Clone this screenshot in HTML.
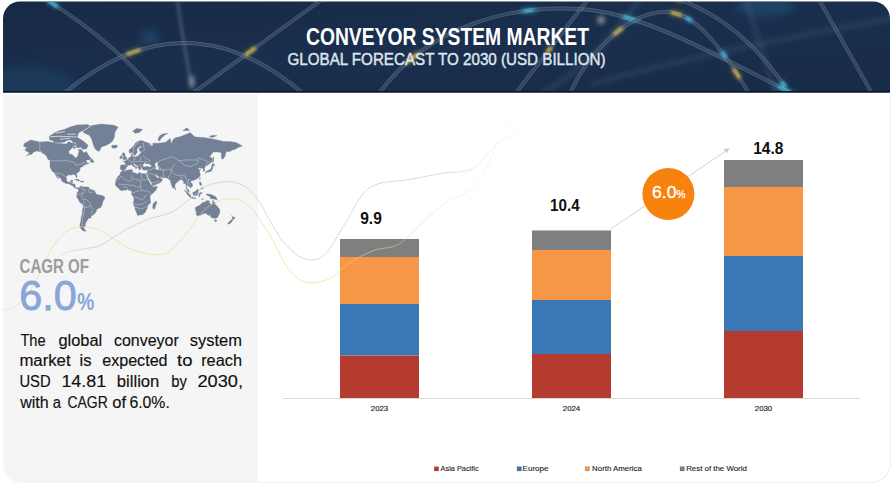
<!DOCTYPE html>
<html><head><meta charset="utf-8">
<style>
html,body{margin:0;padding:0;background:#fff;}
body{width:895px;height:492px;position:relative;overflow:hidden;font-family:"Liberation Sans",sans-serif;}
.abs{position:absolute;}
#left{left:3px;top:94px;width:255px;height:388.5px;background:#f5f5f5;border-radius:0 0 0 19px;}
#right{left:258px;top:93px;width:632px;height:389px;border:1px solid #efefef;border-top:none;border-left:none;border-radius:0 0 20px 0;}
.pl{position:absolute;left:20px;width:221.5px;font-size:15.6px;line-height:20px;height:20px;color:#111;-webkit-text-stroke:0.25px #111;text-align:justify;text-align-last:justify;white-space:nowrap;}
</style></head><body>
<div id="left" class="abs"></div>
<div id="right" class="abs"></div>
<svg class="abs" style="left:0;top:0" width="895" height="492" viewBox="0 0 895 492" font-family="Liberation Sans, sans-serif">
  <defs>
    <linearGradient id="hg" x1="0" y1="0" x2="1" y2="1">
      <stop offset="0" stop-color="#172a45"/>
      <stop offset="0.5" stop-color="#1a2f4e"/>
      <stop offset="1" stop-color="#172b46"/>
    </linearGradient>
    <radialGradient id="glowL" cx="0.1" cy="0.9" r="0.4">
      <stop offset="0" stop-color="#1f4a6e" stop-opacity="0.8"/>
      <stop offset="1" stop-color="#1f4a6e" stop-opacity="0"/>
    </radialGradient>
    <clipPath id="hc"><path d="M3 92.5 V18.5 A17 17 0 0 1 20 1.5 H873 A17 17 0 0 1 890 18.5 V92.5 Z"/></clipPath>
    <filter id="bl1" x="-50%" y="-50%" width="200%" height="200%"><feGaussianBlur stdDeviation="1"/></filter>
    <filter id="bl08" x="-50%" y="-50%" width="200%" height="200%"><feGaussianBlur stdDeviation="0.8"/></filter>
    <filter id="bl15" x="-50%" y="-50%" width="200%" height="200%"><feGaussianBlur stdDeviation="1.5"/></filter>
    <filter id="bl2" x="-50%" y="-50%" width="200%" height="200%"><feGaussianBlur stdDeviation="2"/></filter>
    <filter id="bl4" x="-50%" y="-50%" width="200%" height="200%"><feGaussianBlur stdDeviation="4"/></filter>
    <linearGradient id="gg" gradientUnits="userSpaceOnUse" x1="30" y1="0" x2="535" y2="0">
      <stop offset="0" stop-color="#c8c8c8" stop-opacity="0"/>
      <stop offset="0.12" stop-color="#c8c8c8" stop-opacity="0.7"/>
      <stop offset="0.8" stop-color="#c8c8c8" stop-opacity="0.7"/>
      <stop offset="1" stop-color="#c8c8c8" stop-opacity="0"/>
    </linearGradient>
    <linearGradient id="yg" gradientUnits="userSpaceOnUse" x1="0" y1="0" x2="525" y2="0">
      <stop offset="0" stop-color="#f3cf6e" stop-opacity="0.3"/>
      <stop offset="0.1" stop-color="#f3d27e" stop-opacity="0.6"/>
      <stop offset="0.72" stop-color="#f3d27e" stop-opacity="0.6"/>
      <stop offset="0.95" stop-color="#f3d27e" stop-opacity="0.15"/>
      <stop offset="1" stop-color="#f3cf6e" stop-opacity="0"/>
    </linearGradient>
  </defs>
  <g clip-path="url(#hc)">
    <rect x="0" y="0" width="895" height="93" fill="url(#hg)"/>
    
<ellipse cx="30" cy="88" rx="45" ry="22" fill="#24557a" opacity="0.3" filter="url(#bl4)"/><ellipse cx="150" cy="38" rx="10" ry="8" fill="#2a6a95" opacity="0.35" filter="url(#bl4)"/><ellipse cx="765" cy="6" rx="30" ry="10" fill="#2a6a95" opacity="0.35" filter="url(#bl4)"/><g filter="url(#bl2)" fill="none" stroke="#6d87a6" stroke-opacity="0.15" stroke-width="6"><path d="M590 85 Q690 55 895 18"/><path d="M745 -2 L776 95"/><path d="M540 95 Q600 60 640 -2"/></g><path d="M177 -2 Q183 40 191 84" fill="none" stroke="#8d9cb0" stroke-opacity="0.28" stroke-width="4" filter="url(#bl15)"/><path d="M44 -2 Q115 42.6 158 95" fill="none" stroke="#b9c7d8" stroke-width="3.8" stroke-opacity="0.300"/><path d="M44 -2 Q115 42.6 158 95" fill="none" stroke="#1c2f4b" stroke-width="2.10" stroke-opacity="0.5"/><path d="M44 -2 Q115 42.6 158 95" pathLength="1000" fill="none" stroke="#44c4e6" stroke-width="5.8" stroke-opacity="0.35" stroke-dasharray="0 27 86 5000" filter="url(#bl2)"/><path d="M44 -2 Q115 42.6 158 95" pathLength="1000" fill="none" stroke="#44c4e6" stroke-width="3.5" stroke-opacity="0.65" stroke-dasharray="0 35 70 5000" filter="url(#bl08)"/><path d="M62 95 Q185 -9 305 95" fill="none" stroke="#b9c7d8" stroke-width="3.8" stroke-opacity="0.300"/><path d="M62 95 Q185 -9 305 95" fill="none" stroke="#1c2f4b" stroke-width="2.10" stroke-opacity="0.5"/><path d="M62 95 Q185 -9 305 95" pathLength="1000" fill="none" stroke="#d9bb4a" stroke-width="5.8" stroke-opacity="0.35" stroke-dasharray="0 277 66 5000" filter="url(#bl2)"/><path d="M62 95 Q185 -9 305 95" pathLength="1000" fill="none" stroke="#d9bb4a" stroke-width="3.5" stroke-opacity="0.65" stroke-dasharray="0 285 50 5000" filter="url(#bl08)"/><path d="M193 93 L324 -2" fill="none" stroke="#b9c7d8" stroke-width="3.8" stroke-opacity="0.300"/><path d="M193 93 L324 -2" fill="none" stroke="#1c2f4b" stroke-width="2.10" stroke-opacity="0.5"/><path d="M193 93 L324 -2" pathLength="1000" fill="none" stroke="#d9bb4a" stroke-width="5.8" stroke-opacity="0.35" stroke-dasharray="0 392 91 5000" filter="url(#bl2)"/><path d="M193 93 L324 -2" pathLength="1000" fill="none" stroke="#d9bb4a" stroke-width="3.5" stroke-opacity="0.65" stroke-dasharray="0 400 75 5000" filter="url(#bl08)"/><path d="M380 92 C430 25 510 5 580 9 C630 12 680 35 795 95" fill="none" stroke="#b9c7d8" stroke-width="3.8" stroke-opacity="0.300"/><path d="M380 92 C430 25 510 5 580 9 C630 12 680 35 795 95" fill="none" stroke="#1c2f4b" stroke-width="2.10" stroke-opacity="0.5"/><path d="M380 92 C430 25 510 5 580 9 C630 12 680 35 795 95" pathLength="1000" fill="none" stroke="#d9bb4a" stroke-width="5.8" stroke-opacity="0.35" stroke-dasharray="0 82 41 5000" filter="url(#bl2)"/><path d="M380 92 C430 25 510 5 580 9 C630 12 680 35 795 95" pathLength="1000" fill="none" stroke="#d9bb4a" stroke-width="3.5" stroke-opacity="0.65" stroke-dasharray="0 90 25 5000" filter="url(#bl08)"/><path d="M380 92 C430 25 510 5 580 9 C630 12 680 35 795 95" pathLength="1000" fill="none" stroke="#44c4e6" stroke-width="5.8" stroke-opacity="0.35" stroke-dasharray="0 362 36 5000" filter="url(#bl2)"/><path d="M380 92 C430 25 510 5 580 9 C630 12 680 35 795 95" pathLength="1000" fill="none" stroke="#44c4e6" stroke-width="3.5" stroke-opacity="0.65" stroke-dasharray="0 370 20 5000" filter="url(#bl08)"/><path d="M380 92 C430 25 510 5 580 9 C630 12 680 35 795 95" pathLength="1000" fill="none" stroke="#44c4e6" stroke-width="5.8" stroke-opacity="0.35" stroke-dasharray="0 582 41 5000" filter="url(#bl2)"/><path d="M380 92 C430 25 510 5 580 9 C630 12 680 35 795 95" pathLength="1000" fill="none" stroke="#44c4e6" stroke-width="3.5" stroke-opacity="0.65" stroke-dasharray="0 590 25 5000" filter="url(#bl08)"/><path d="M380 92 C430 25 510 5 580 9 C630 12 680 35 795 95" pathLength="1000" fill="none" stroke="#44c4e6" stroke-width="5.8" stroke-opacity="0.35" stroke-dasharray="0 952 46 5000" filter="url(#bl2)"/><path d="M380 92 C430 25 510 5 580 9 C630 12 680 35 795 95" pathLength="1000" fill="none" stroke="#44c4e6" stroke-width="3.5" stroke-opacity="0.65" stroke-dasharray="0 960 30 5000" filter="url(#bl08)"/><path d="M516 93 L589 -2" fill="none" stroke="#b9c7d8" stroke-width="3.8" stroke-opacity="0.300"/><path d="M516 93 L589 -2" fill="none" stroke="#1c2f4b" stroke-width="2.10" stroke-opacity="0.5"/><path d="M516 93 L589 -2" pathLength="1000" fill="none" stroke="#d9bb4a" stroke-width="5.8" stroke-opacity="0.35" stroke-dasharray="0 422 66 5000" filter="url(#bl2)"/><path d="M516 93 L589 -2" pathLength="1000" fill="none" stroke="#d9bb4a" stroke-width="3.5" stroke-opacity="0.65" stroke-dasharray="0 430 50 5000" filter="url(#bl08)"/><path d="M570 93 C590 50 630 12 665 12 C695 12 720 45 750 95" fill="none" stroke="#b9c7d8" stroke-width="3.8" stroke-opacity="0.300"/><path d="M570 93 C590 50 630 12 665 12 C695 12 720 45 750 95" fill="none" stroke="#1c2f4b" stroke-width="2.10" stroke-opacity="0.5"/><path d="M570 93 C590 50 630 12 665 12 C695 12 720 45 750 95" pathLength="1000" fill="none" stroke="#d9bb4a" stroke-width="5.8" stroke-opacity="0.35" stroke-dasharray="0 282 56 5000" filter="url(#bl2)"/><path d="M570 93 C590 50 630 12 665 12 C695 12 720 45 750 95" pathLength="1000" fill="none" stroke="#d9bb4a" stroke-width="3.5" stroke-opacity="0.65" stroke-dasharray="0 290 40 5000" filter="url(#bl08)"/><path d="M570 93 C590 50 630 12 665 12 C695 12 720 45 750 95" pathLength="1000" fill="none" stroke="#d9bb4a" stroke-width="5.8" stroke-opacity="0.35" stroke-dasharray="0 532 56 5000" filter="url(#bl2)"/><path d="M570 93 C590 50 630 12 665 12 C695 12 720 45 750 95" pathLength="1000" fill="none" stroke="#d9bb4a" stroke-width="3.5" stroke-opacity="0.65" stroke-dasharray="0 540 40 5000" filter="url(#bl08)"/><path d="M570 93 C590 50 630 12 665 12 C695 12 720 45 750 95" pathLength="1000" fill="none" stroke="#44c4e6" stroke-width="5.8" stroke-opacity="0.35" stroke-dasharray="0 592 41 5000" filter="url(#bl2)"/><path d="M570 93 C590 50 630 12 665 12 C695 12 720 45 750 95" pathLength="1000" fill="none" stroke="#44c4e6" stroke-width="3.5" stroke-opacity="0.65" stroke-dasharray="0 600 25 5000" filter="url(#bl08)"/><path d="M570 93 C590 50 630 12 665 12 C695 12 720 45 750 95" pathLength="1000" fill="none" stroke="#44c4e6" stroke-width="5.8" stroke-opacity="0.35" stroke-dasharray="0 792 41 5000" filter="url(#bl2)"/><path d="M570 93 C590 50 630 12 665 12 C695 12 720 45 750 95" pathLength="1000" fill="none" stroke="#44c4e6" stroke-width="3.5" stroke-opacity="0.65" stroke-dasharray="0 800 25 5000" filter="url(#bl08)"/><path d="M570 93 C590 50 630 12 665 12 C695 12 720 45 750 95" pathLength="1000" fill="none" stroke="#d9bb4a" stroke-width="5.8" stroke-opacity="0.35" stroke-dasharray="0 872 56 5000" filter="url(#bl2)"/><path d="M570 93 C590 50 630 12 665 12 C695 12 720 45 750 95" pathLength="1000" fill="none" stroke="#d9bb4a" stroke-width="3.5" stroke-opacity="0.65" stroke-dasharray="0 880 40 5000" filter="url(#bl08)"/><path d="M675 -2 Q740 20 786 88" fill="none" stroke="#b9c7d8" stroke-width="3.8" stroke-opacity="0.300"/><path d="M675 -2 Q740 20 786 88" fill="none" stroke="#1c2f4b" stroke-width="2.10" stroke-opacity="0.5"/><path d="M675 -2 Q740 20 786 88" pathLength="1000" fill="none" stroke="#d9bb4a" stroke-width="5.8" stroke-opacity="0.35" stroke-dasharray="0 0.01 56 5000" filter="url(#bl2)"/><path d="M675 -2 Q740 20 786 88" pathLength="1000" fill="none" stroke="#d9bb4a" stroke-width="3.5" stroke-opacity="0.65" stroke-dasharray="0 0.01 40 5000" filter="url(#bl08)"/><path d="M675 -2 Q740 20 786 88" pathLength="1000" fill="none" stroke="#44c4e6" stroke-width="5.8" stroke-opacity="0.35" stroke-dasharray="0 942 56 5000" filter="url(#bl2)"/><path d="M675 -2 Q740 20 786 88" pathLength="1000" fill="none" stroke="#44c4e6" stroke-width="3.5" stroke-opacity="0.65" stroke-dasharray="0 950 40 5000" filter="url(#bl08)"/><path d="M818 -2 L873 95" fill="none" stroke="#b9c7d8" stroke-width="3.8" stroke-opacity="0.300"/><path d="M818 -2 L873 95" fill="none" stroke="#1c2f4b" stroke-width="2.10" stroke-opacity="0.5"/><ellipse cx="192" cy="82" rx="3" ry="7" fill="#c8c4bc" opacity="0.5" filter="url(#bl2)"/><ellipse cx="601" cy="20" rx="4" ry="4" fill="#e0d8d0" opacity="0.5" filter="url(#bl2)"/>
    <rect x="0" y="91" width="895" height="2" fill="#0a1526"/>
  </g>
  <text x="306" y="45.3" font-size="24.1" font-weight="bold" fill="#fff" textLength="283" lengthAdjust="spacingAndGlyphs">CONVEYOR SYSTEM MARKET</text>
  <text x="287.5" y="65.4" font-size="16.2" fill="#dfe4ec" stroke="#dfe4ec" stroke-width="0.45" textLength="318" lengthAdjust="spacingAndGlyphs">GLOBAL FORECAST TO 2030 (USD BILLION)</text>

  <!-- map -->
  <path d="M23.4 146.1L24.6 143.2L30.7 140.1L39.8 142.0L47.8 141.5L55.7 143.2L61.8 143.7L66.7 143.9L68.6 141.5L72.2 143.2L75.9 142.1L76.5 145.2L73.5 145.7L72.2 147.7L68.6 151.5L69.5 154.2L72.2 154.6L75.6 158.0L77.7 156.3L79.0 151.5L78.3 149.2L81.4 149.6L83.8 152.9L86.3 151.5L88.4 155.0L91.2 158.4L89.6 160.0L85.7 160.0L86.6 161.2L86.9 163.1L89.3 163.1L85.7 164.6L83.2 165.4L83.2 166.5L80.8 167.2L79.6 169.7L79.9 171.0L76.5 173.5L77.1 176.5L76.8 177.7L75.9 176.8L75.3 174.8L74.1 174.5L71.6 174.4L71.3 175.2L68.6 174.8L66.4 176.2L66.4 178.5L66.7 180.4L67.3 181.7L68.6 182.2L70.4 182.0L70.7 180.4L72.8 180.1L72.5 182.3L71.9 183.7L74.7 183.9L75.1 186.0L75.9 187.9L77.7 187.6L78.8 188.2L78.3 189.0L77.1 188.8L73.8 187.3L72.5 185.4L70.1 184.8L68.6 183.5L67.0 183.7L64.9 182.9L61.5 181.0L61.8 180.1L61.2 179.1L59.4 177.5L57.6 175.2L56.0 173.5L57.0 175.2L58.8 178.5L58.8 179.1L57.6 178.0L56.0 175.8L54.8 173.5L54.4 172.7L52.4 171.5L51.2 169.4L50.2 167.2L49.9 165.4L50.2 162.8L49.8 161.3L50.8 160.8L47.8 159.2L46.6 156.3L44.7 154.2L42.3 152.9L40.5 151.8L36.8 151.0L33.7 152.0L31.9 154.2L29.5 154.6L26.4 156.1L29.5 152.9L27.0 151.5L25.2 150.6L25.2 149.2L27.6 147.2L25.2 147.2ZM49.6 139.9L49.3 136.4L52.7 133.9L57.6 131.3L64.9 129.3L69.8 127.1L77.1 124.9L88.1 124.6L89.3 126.1L83.2 129.9L79.6 132.6L78.3 133.9L77.1 137.0L79.6 138.7L83.2 141.0L88.1 145.2L86.6 148.7L82.6 149.2L80.8 147.2L77.1 147.7L74.7 144.2L72.2 141.5L71.0 139.9L68.0 139.9L64.3 142.1L60.0 142.8L53.9 142.6L52.7 140.4ZM72.8 146.2L76.5 147.7L73.5 148.7ZM90.0 162.0L93.6 162.6L93.8 161.6L92.1 158.7L90.9 159.4ZM80.8 129.9L88.1 125.9L101.6 124.1L113.8 125.2L118.1 127.1L115.0 132.0L114.4 137.0L112.6 141.0L110.1 143.2L105.2 145.7L101.6 146.7L99.1 151.5L96.1 150.1L94.2 147.2L93.0 143.7L91.8 139.3L89.3 135.2L84.5 133.3ZM111.3 146.2L112.6 145.3L116.8 145.2L117.8 146.7L115.0 148.2L112.3 147.9ZM74.1 179.9L77.1 179.0L80.8 180.9L78.6 181.1L75.3 179.7ZM80.5 182.0L84.1 182.0L83.2 181.1L81.4 181.1ZM78.6 188.2L79.6 187.6L79.9 186.8L82.0 185.8L82.3 186.7L84.5 187.0L86.9 187.0L88.7 187.0L89.3 188.2L91.2 189.7L94.2 190.3L95.5 192.5L95.5 193.7L99.1 194.9L102.2 195.5L104.6 196.8L104.6 198.9L103.1 201.1L102.2 204.2L101.6 206.1L100.3 207.7L96.7 209.3L96.4 211.3L94.8 213.3L93.6 215.0L91.5 215.6L90.9 216.7L90.9 218.1L88.1 218.5L87.8 219.9L86.6 221.0L86.0 222.9L84.8 224.0L85.7 225.2L83.8 227.6L84.1 228.8L86.3 230.9L84.5 231.3L82.0 230.1L80.2 227.6L79.9 224.4L80.8 221.4L81.1 217.8L82.3 213.6L82.3 211.0L82.9 207.7L83.1 204.8L79.9 202.6L79.0 200.8L77.4 198.0L76.4 196.5L77.1 194.9L76.8 193.1L77.4 192.5L78.3 191.6L78.6 189.7L78.0 188.5ZM115.3 184.4L115.9 181.3L115.6 180.4L116.8 178.5L118.1 176.2L120.0 174.8L120.2 172.8L122.3 170.6L124.8 171.0L127.8 169.9L132.1 169.5L132.7 170.8L132.1 171.8L133.0 172.5L135.2 173.0L137.9 174.2L138.5 172.8L140.1 172.8L141.3 173.4L144.0 173.8L145.9 173.7L145.9 174.5L146.5 176.5L147.7 178.5L148.6 180.4L149.5 182.3L150.4 183.9L152.5 185.7L152.3 186.3L153.2 187.0L157.2 186.2L157.2 187.0L156.2 189.7L154.7 191.6L152.3 193.7L150.4 195.2L150.0 197.1L150.1 199.5L150.7 202.9L148.6 204.2L147.4 206.7L147.7 208.3L146.2 209.6L145.9 211.6L144.3 213.3L142.5 214.7L139.4 215.0L138.2 215.6L137.2 215.0L137.0 213.6L136.1 211.3L135.2 210.0L134.9 207.4L133.2 203.9L133.6 201.4L134.2 200.1L133.3 197.1L131.5 194.0L131.8 191.6L131.2 190.6L129.7 190.8L127.8 189.5L125.1 190.3L123.6 190.2L121.4 190.7L119.0 189.1L117.8 187.6L116.8 186.7L115.7 185.7ZM156.1 200.8L156.9 202.9L156.2 203.9L154.7 208.8L153.5 209.3L152.6 207.1L153.2 203.6L154.7 202.6ZM120.6 169.7L120.2 168.3L120.6 166.1L120.4 165.2L121.1 164.9L124.8 165.1L125.1 164.3L125.3 163.1L124.5 162.1L123.1 161.3L125.1 161.0L126.9 160.0L128.1 159.0L128.7 158.0L130.0 157.2L131.2 156.9L131.2 155.5L131.0 154.2L132.4 153.7L132.4 155.5L133.3 156.5L134.9 156.8L137.3 156.2L138.8 155.9L138.8 154.4L140.7 154.0L141.0 152.0L143.4 151.7L140.1 151.5L139.1 150.1L139.1 148.7L141.6 146.7L140.7 145.9L139.1 146.9L137.6 148.2L136.7 150.1L137.6 151.7L137.0 152.6L136.1 154.2L134.6 155.5L133.8 155.0L132.7 152.6L131.8 152.4L129.7 153.3L129.1 152.0L129.2 149.6L131.5 148.2L134.2 145.2L135.2 143.2L137.6 141.5L141.3 140.4L144.3 141.5L146.2 142.3L151.1 144.2L148.0 145.2L152.9 145.7L152.9 143.2L158.4 143.2L162.0 142.8L166.3 142.1L167.5 140.4L170.3 138.5L171.2 143.7L173.7 138.7L176.1 137.6L179.2 137.0L187.1 133.9L190.2 132.6L195.0 137.0L203.6 137.6L211.5 138.7L217.6 139.9L223.8 141.5L229.9 141.5L236.0 142.6L240.3 144.7L242.4 146.2L238.4 147.2L235.4 149.2L232.3 150.1L229.9 151.5L225.9 151.7L225.6 153.7L225.0 156.3L222.8 159.2L221.6 158.8L221.3 155.0L221.6 153.6L220.1 152.2L217.0 152.0L213.4 152.1L211.8 153.7L209.7 156.7L212.2 158.4L212.2 161.2L210.3 163.1L207.3 165.5L205.4 165.8L205.1 167.2L204.2 168.7L205.1 170.4L204.2 171.1L203.3 171.5L203.3 169.4L202.4 167.9L200.2 168.3L200.5 167.2L198.1 168.3L198.7 169.6L200.8 169.5L199.3 170.8L199.9 173.2L200.5 174.5L199.6 176.5L198.1 178.1L195.7 179.5L193.2 180.4L191.1 181.0L190.5 182.0L192.3 183.9L192.6 186.3L191.4 187.0L190.2 188.1L190.0 187.0L188.9 186.5L187.7 185.6L187.1 185.1L186.6 187.0L187.3 189.1L188.9 190.0L189.2 192.5L187.9 191.7L187.3 190.3L186.2 188.5L186.1 186.7L185.7 183.5L183.6 183.5L183.7 181.7L182.4 180.1L182.0 179.4L181.0 179.9L179.2 180.1L178.9 181.0L177.6 181.7L176.1 183.2L175.0 184.2L175.1 185.4L174.8 187.1L173.4 188.5L172.7 187.9L171.7 185.5L170.9 183.2L170.5 181.7L170.4 180.1L168.8 179.4L167.9 178.8L166.6 177.7L163.9 177.7L161.1 177.3L160.4 176.5L159.0 176.7L157.5 175.9L156.6 174.5L155.3 174.5L155.6 175.5L157.0 177.8L157.5 178.3L160.2 177.1L160.5 178.1L162.5 179.4L161.3 181.7L159.6 182.9L157.8 183.5L155.6 184.8L153.5 185.5L152.5 185.7L152.1 183.9L151.4 182.3L149.8 180.1L148.6 177.8L147.4 175.8L147.3 174.8L145.9 174.6L145.7 173.7L147.1 173.5L147.9 170.8L148.1 169.9L146.8 170.3L144.6 170.1L143.1 169.9L142.2 168.7L142.0 167.6L141.9 167.1L140.6 167.4L140.7 169.0L140.1 170.1L139.3 169.9L138.8 168.7L138.2 167.9L137.9 166.9L137.9 166.1L137.0 165.6L135.5 164.6L134.4 163.7L133.5 163.5L133.6 164.6L134.4 165.5L135.8 166.5L137.3 167.5L136.4 168.3L135.8 169.0L135.6 167.6L134.6 167.0L133.6 166.5L132.4 165.5L131.4 164.3L130.0 165.2L128.4 165.0L127.8 165.9L128.0 166.3L126.5 166.9L125.8 168.1L126.1 168.5L125.6 169.3L124.8 169.9L122.6 170.4L122.0 169.8ZM122.5 160.0L126.9 159.2L127.0 157.8L126.0 157.2L125.1 155.9L124.8 153.6L123.9 152.8L122.9 152.8L122.2 154.6L122.9 155.9L124.2 156.7L123.3 157.6L122.8 158.6L124.2 158.9ZM122.3 158.2L122.3 156.7L121.4 155.6L119.9 156.7L119.8 158.6L121.1 158.8ZM157.8 139.9L159.6 135.8L162.7 133.9L168.2 133.3L164.5 135.2L160.8 138.7L159.6 141.0ZM132.7 131.3L136.4 128.6L142.5 129.3L139.4 132.6L135.2 133.3ZM182.8 130.6L187.1 127.8L189.5 130.6ZM209.1 136.4L212.8 135.2L217.0 135.8L212.2 137.6ZM174.9 187.4L176.1 188.8L175.2 189.8L174.8 189.1ZM205.4 173.8L206.7 172.1L208.8 172.1L211.5 171.1L212.2 169.7L212.8 167.6L212.3 166.5L213.7 166.1L214.9 165.0L212.8 163.5L211.8 165.0L211.4 167.2L210.6 169.2L209.1 170.1L207.3 170.8L205.9 171.8ZM212.8 163.1L213.7 160.8L213.4 156.7L212.8 157.2L212.8 160.4ZM199.9 177.6L200.5 178.1L199.8 179.7L199.4 179.1ZM199.3 182.0L200.8 182.1L201.8 185.4L199.9 185.1ZM200.5 189.1L203.3 188.8L202.7 187.6L201.2 188.2ZM184.2 190.0L185.9 191.0L189.5 194.3L190.8 195.2L190.8 196.9L189.8 196.9L187.7 194.9L186.2 192.5ZM190.3 197.6L192.0 197.3L196.0 198.1L196.0 198.7L192.0 198.2L190.5 197.7ZM192.6 192.5L193.0 193.7L193.2 195.2L195.7 195.5L197.2 195.2L198.1 192.8L198.7 190.3L197.5 189.1L196.6 190.3L195.0 191.6L193.2 192.5ZM198.7 196.8L199.6 196.8L199.9 194.6L201.2 194.0L202.4 192.6L199.6 192.8L198.7 195.2ZM206.0 194.2L207.9 193.9L210.0 194.3L212.2 195.0L214.6 196.2L216.1 197.1L216.4 198.3L217.6 199.8L215.8 199.5L213.7 198.9L212.2 199.0L210.3 198.5L210.0 196.5L207.9 195.8L206.7 195.1ZM201.8 198.9L203.6 198.5L202.4 199.5L201.5 199.7ZM195.7 207.1L195.3 209.6L196.3 212.3L196.3 215.0L198.1 215.7L201.2 215.0L203.0 213.8L206.0 213.3L208.5 215.7L210.0 214.3L210.3 216.0L211.5 217.8L214.0 218.1L215.2 218.5L217.6 217.4L219.5 213.6L219.8 211.0L219.5 209.0L218.0 207.4L217.0 206.1L215.2 204.5L214.9 202.6L213.7 202.0L213.1 200.0L212.5 201.4L212.5 203.9L211.5 204.3L209.1 202.8L209.6 201.0L207.0 200.5L205.4 201.4L205.1 202.6L203.0 202.0L201.8 203.6L200.5 204.5L198.7 205.8ZM214.5 219.7L216.6 219.9L216.4 221.4L215.5 221.9L214.7 220.8ZM231.6 215.3L232.6 216.7L235.1 217.6L234.1 218.9L232.9 220.3L232.2 218.6L232.6 217.1ZM231.4 219.6L232.5 220.5L231.7 222.0L230.5 222.9L229.3 224.2L227.7 223.7L228.6 222.2L230.5 220.7Z" fill="#738095" stroke="#738095" stroke-width="0.35" stroke-linejoin="round"/>
  <path d="M143.1 166.5L143.7 166.8L144.9 166.8L147.4 166.1L149.2 166.9L151.4 166.5L151.4 165.8L149.8 164.4L148.9 163.9L147.7 163.7L146.5 164.3L145.9 163.7L144.9 162.7L144.3 163.5L143.6 164.3L143.0 165.4ZM154.7 164.3L156.2 162.8L157.5 162.4L158.4 163.1L157.2 164.3L158.1 166.1L158.4 167.6L159.0 169.4L156.9 169.7L155.9 168.7L156.2 167.2L155.3 165.4Z" fill="#f5f5f5"/>
  <path d="M91.8 124.9L86.9 128.6L82.0 131.7L78.3 133.9M50.2 136.7L58.8 136.3L68.0 136.6L76.5 137.0M67.3 134.2L75.9 134.3M55.7 133.0L64.9 131.6M60.0 139.3L64.9 138.7L69.8 138.2M74.1 142.1L76.5 144.7" fill="none" stroke="#f5f5f5" stroke-width="0.7"/>
  <path d="M50.8 160.8L68.0 160.8L71.6 161.6L75.3 163.1L75.6 165.4L77.7 165.2L80.2 163.9L82.6 163.9L83.8 162.0L84.8 163.5M54.5 172.8L58.2 173.6L60.0 173.6L60.9 173.3L63.1 175.2L65.2 176.5L66.6 177.2M39.8 142.0L39.8 151.2L42.3 152.4M69.8 182.3L71.6 182.4L71.9 183.7M120.7 176.0L123.1 177.8L126.6 180.4L128.4 181.7L133.3 178.8L135.2 179.1L140.7 181.0M141.3 173.4L141.3 179.7L148.5 179.7M131.8 174.5L132.1 178.5M140.7 181.0L140.7 188.5L142.5 190.3L144.9 191.3L147.4 190.6L151.7 194.3M115.6 180.4L118.7 179.1L120.8 176.0M118.7 184.2L126.0 184.5L128.4 185.1L134.6 185.4L135.8 187.3L139.4 186.7L140.7 187.3M122.9 187.3L126.0 186.7L127.2 187.9L127.8 189.5M131.5 192.8L134.6 192.2L137.0 191.3L142.5 190.3M133.3 196.5L135.8 197.4L139.4 198.3L140.7 200.1L144.3 198.3L144.9 196.2L147.4 194.6M133.2 203.9L138.2 204.5L141.3 204.5L144.9 202.6L147.4 200.8M134.9 207.4L138.2 207.1L138.2 209.0L143.1 208.3L145.6 207.1L147.4 207.1M146.2 173.8L148.3 174.8L149.8 173.2L154.7 175.2M148.0 169.9L151.7 169.6L153.2 167.9M151.7 182.9L153.5 182.6L157.8 181.7L159.6 181.0M153.2 167.9L155.3 168.7L159.0 169.4L163.3 170.1L166.9 169.7L171.2 169.7M163.3 170.1L163.3 173.8L163.9 177.5M171.2 169.7L171.2 173.2L169.1 175.8L167.9 178.8M171.2 169.7L173.7 172.5L174.9 174.5L179.8 175.8L185.3 175.8L185.9 178.5L187.7 180.1L190.8 179.4M182.2 177.2L180.4 179.7M155.3 163.1L163.3 159.6L172.4 156.7L179.2 160.8L185.3 160.0L197.5 160.0L199.3 157.6L203.6 160.0L208.5 161.6L206.0 165.4M154.7 166.1L156.6 169.4M159.0 166.1L160.8 169.0L163.3 170.1M179.2 160.8L184.7 165.4L190.8 166.5L194.4 165.0L198.7 162.0L197.5 160.0M174.9 163.9L172.4 167.6L171.2 169.7M187.7 180.1L190.2 185.1L188.9 186.7M185.9 187.3L187.1 184.8L187.7 182.3L185.9 181.0M127.2 159.2L129.7 160.4L130.6 162.0L132.1 162.0L133.9 162.0L136.4 161.6L139.7 161.6L143.1 161.6L149.2 162.4M124.9 165.2L128.0 165.8M134.7 156.7L135.0 159.2L133.3 159.8L133.9 161.2M140.4 156.7L140.7 159.6L139.7 161.2M143.4 151.5L144.3 149.6L143.7 145.7L143.4 142.6M133.9 152.4L133.3 150.1L134.6 146.7L137.0 143.2L138.8 142.6M143.1 155.0L145.6 158.4L149.2 160.0L150.4 162.0M138.2 166.1L140.1 165.0L143.1 164.6M83.5 192.4L81.1 196.2L83.2 199.5L86.3 199.5L89.3 202.0L90.6 205.8L93.0 209.3L93.0 210.3L90.8 212.3L93.4 214.8M83.2 207.1L84.5 207.7L84.1 211.6L83.2 215.7L82.3 220.7L82.0 226.8M83.8 200.8L83.5 204.2L84.5 207.4L88.1 207.1L90.6 205.8M82.0 186.0L81.7 189.1L85.1 189.5L84.9 192.5M89.3 188.2L88.7 190.3L89.3 192.5L91.8 192.2L94.2 191.9M77.1 194.6L80.2 194.0L83.5 192.4" fill="none" stroke="#f5f5f5" stroke-opacity="0.7" stroke-width="0.5"/>


  <!-- chart -->
  <line x1="283" y1="398.5" x2="860" y2="398.5" stroke="#d9d9d9" stroke-width="1"/>
  <rect x="340" y="239" width="79" height="18.0" fill="#7f7f7f"/><rect x="340" y="257" width="79" height="47.0" fill="#f79646"/><rect x="340" y="304" width="79" height="51.6" fill="#3a77b5"/><rect x="340" y="355.6" width="79" height="42.4" fill="#b53a2f"/><rect x="532" y="230.5" width="79" height="19.5" fill="#7f7f7f"/><rect x="532" y="250" width="79" height="50.0" fill="#f79646"/><rect x="532" y="300" width="79" height="54.0" fill="#3a77b5"/><rect x="532" y="354" width="79" height="44.0" fill="#b53a2f"/><rect x="724" y="160" width="79" height="27.0" fill="#7f7f7f"/><rect x="724" y="187" width="79" height="69.0" fill="#f79646"/><rect x="724" y="256" width="79" height="75.0" fill="#3a77b5"/><rect x="724" y="331" width="79" height="67.0" fill="#b53a2f"/>
  <g font-size="16.3" font-weight="bold" fill="#111">
    <text x="360.2" y="223.5" textLength="21.6" lengthAdjust="spacingAndGlyphs">9.9</text>
    <text x="550" y="210.5" textLength="29.6" lengthAdjust="spacingAndGlyphs">10.4</text>
    <text x="753.2" y="153.7" textLength="30.2" lengthAdjust="spacingAndGlyphs">14.8</text>
  </g>
  <g font-size="7.8" fill="#1a1a1a" stroke="#1a1a1a" stroke-width="0.15" text-anchor="middle">
    <text x="379.5" y="411">2023</text>
    <text x="571.5" y="411">2024</text>
    <text x="763.5" y="411">2030</text>
  </g>
  <!-- curves -->
  <path d="M34 277 C38.5 273.3 53.3 259.6 61.0 255.0 C68.7 250.4 73.5 251.1 80.0 249.5 C86.5 247.9 93.5 248.2 100.0 245.5 C106.5 242.8 111.5 237.8 119.0 233.6 C126.5 229.4 136.2 224.0 145.0 220.4 C153.8 216.8 164.2 215.9 172.0 212.0 C179.8 208.1 186.7 201.2 192.0 197.0 C197.3 192.8 198.7 189.6 204.0 187.0 C209.3 184.4 217.8 182.1 224.0 181.7 C230.2 181.3 235.7 182.0 241.0 184.6 C246.3 187.2 250.7 190.1 256.0 197.0 C261.3 203.9 268.2 218.2 273.0 226.0 C277.8 233.8 279.7 238.5 285.0 244.0 C290.3 249.5 298.3 257.2 305.0 259.0 C311.7 260.8 318.2 260.7 325.0 254.5 C331.8 248.3 338.5 233.2 346.0 222.0 C353.5 210.8 359.2 194.5 370.0 187.4 C380.8 180.3 398.8 181.7 411.0 179.3 C423.2 176.9 432.8 174.9 443.0 173.2 C453.2 171.5 463.8 173.1 472.0 169.0 C480.2 164.9 486.0 154.2 492.0 148.8 C498.0 143.4 501.5 139.8 508.0 136.6 C514.5 133.3 527.2 130.5 531.0 129.3" fill="none" stroke="url(#gg)" stroke-width="1"/>
  <path d="M2.6 310 C4.8 309.3 11.1 309.7 16.0 306.0 C20.9 302.3 26.7 296.3 32.0 288.0 C37.3 279.7 42.8 264.7 47.6 256.0 C52.4 247.3 56.1 240.8 61.0 236.0 C65.9 231.2 70.8 228.1 77.0 227.0 C83.2 225.9 91.8 227.6 98.0 229.6 C104.2 231.6 108.3 235.7 114.0 239.0 C119.7 242.3 125.0 246.9 132.0 249.5 C139.0 252.1 149.3 254.7 156.0 254.7 C162.7 254.7 166.0 254.3 172.0 249.5 C178.0 244.7 186.7 232.6 192.0 226.0 C197.3 219.4 199.8 214.1 204.0 210.0 C208.2 205.9 212.8 203.6 217.0 201.7 C221.2 199.8 224.7 198.8 229.0 198.8 C233.3 198.8 238.5 199.2 243.0 201.7 C247.5 204.2 251.0 207.5 256.0 214.0 C261.0 220.5 267.8 231.9 273.0 240.7 C278.2 249.5 281.7 260.1 287.0 267.0 C292.3 273.9 298.0 280.0 305.0 282.0 C312.0 284.0 321.5 282.2 329.0 279.0 C336.5 275.8 342.5 267.4 350.0 262.6 C357.5 257.8 365.9 253.5 374.0 250.4 C382.1 247.3 390.3 249.0 398.5 244.3 C406.7 239.6 414.9 229.1 423.0 222.0 C431.1 214.9 439.5 206.7 447.0 201.6 C454.5 196.5 461.8 196.2 468.0 191.5 C474.2 186.8 478.7 182.3 484.0 173.2 C489.3 164.0 494.0 147.8 500.0 136.6 C506.0 125.4 516.7 111.1 520.0 106.0" fill="none" stroke="url(#yg)" stroke-width="1"/>
  <!-- CAGR -->
  <text x="19.5" y="272.8" font-size="20" font-weight="bold" fill="#9c9c9c" textLength="69.5" lengthAdjust="spacingAndGlyphs">CAGR OF</text>
  <text x="19.2" y="310" font-size="43.2" fill="#88a6da" stroke="#88a6da" stroke-width="0.8" textLength="57.6" lengthAdjust="spacingAndGlyphs">6.0</text>
  <text x="77.3" y="310.3" font-size="24.8" font-weight="bold" fill="#88a6da" textLength="17" lengthAdjust="spacingAndGlyphs">%</text>

  <g font-size="15.6" fill="#111" stroke="#111" stroke-width="0.15"><text x="20.4" y="346" textLength="25.2" lengthAdjust="spacingAndGlyphs">The</text><text x="58.4" y="346" textLength="43.8" lengthAdjust="spacingAndGlyphs">global</text><text x="114.0" y="346" textLength="64.8" lengthAdjust="spacingAndGlyphs">conveyor</text><text x="189.8" y="346" textLength="52.2" lengthAdjust="spacingAndGlyphs">system</text><text x="19.4" y="366.4" textLength="51.2" lengthAdjust="spacingAndGlyphs">market</text><text x="79.6" y="366.4" textLength="12.0" lengthAdjust="spacingAndGlyphs">is</text><text x="102.2" y="366.4" textLength="65.4" lengthAdjust="spacingAndGlyphs">expected</text><text x="177.0" y="366.4" textLength="15.4" lengthAdjust="spacingAndGlyphs">to</text><text x="201.2" y="366.4" textLength="40.8" lengthAdjust="spacingAndGlyphs">reach</text><text x="19.4" y="387" textLength="31.2" lengthAdjust="spacingAndGlyphs">USD</text><text x="61.4" y="387" textLength="44.8" lengthAdjust="spacingAndGlyphs">14.81</text><text x="116.8" y="387" textLength="42.6" lengthAdjust="spacingAndGlyphs">billion</text><text x="171.2" y="387" textLength="15.6" lengthAdjust="spacingAndGlyphs">by</text><text x="197.4" y="387" textLength="45.6" lengthAdjust="spacingAndGlyphs">2030,</text><text x="20.2" y="407.5" textLength="28.6" lengthAdjust="spacingAndGlyphs">with</text><text x="52.8" y="407.5" textLength="8.2" lengthAdjust="spacingAndGlyphs">a</text><text x="67.4" y="407.5" textLength="40.4" lengthAdjust="spacingAndGlyphs">CAGR</text><text x="112.2" y="407.5" textLength="13.8" lengthAdjust="spacingAndGlyphs">of</text><text x="129.4" y="407.5" textLength="40.4" lengthAdjust="spacingAndGlyphs">6.0%.</text></g>
  <!-- arrow -->
  <line x1="610" y1="229.5" x2="726" y2="150.8" stroke="#d3d3d3" stroke-width="1"/>
  <path d="M729.4 148 L723.6 149.1 L726.9 153.6 Z" fill="#cfcfcf"/>
  <circle cx="668.4" cy="194" r="26" fill="#f7820d"/>
  <text x="652" y="198" font-size="16.8" fill="#fff" stroke="#fff" stroke-width="0.35" textLength="24.6" lengthAdjust="spacingAndGlyphs">6.0</text><text x="676.6" y="198.2" font-size="10.8" fill="#fff" stroke="#fff" stroke-width="0.25" textLength="9" lengthAdjust="spacingAndGlyphs">%</text>

  <!-- legend -->
  <g font-size="7" fill="#262626" stroke="#262626" stroke-width="0.12">
    <rect x="434.2" y="466.7" width="4.5" height="4.3" fill="#b53a2f"/>
    <text x="440.6" y="471.2" textLength="38" lengthAdjust="spacingAndGlyphs">Asia Pacific</text>
    <rect x="517" y="466.7" width="4.5" height="4.3" fill="#3a77b5"/>
    <text x="522.6" y="471.2" textLength="25.8" lengthAdjust="spacingAndGlyphs">Europe</text>
    <rect x="585" y="466.7" width="4.5" height="4.3" fill="#f79646"/>
    <text x="592.1" y="471.2" textLength="49.8" lengthAdjust="spacingAndGlyphs">North America</text>
    <rect x="680" y="466.7" width="4.5" height="4.3" fill="#7f7f7f"/>
    <text x="686.2" y="471.2" textLength="60.6" lengthAdjust="spacingAndGlyphs">Rest of the World</text>
  </g>
</svg>
</body></html>
